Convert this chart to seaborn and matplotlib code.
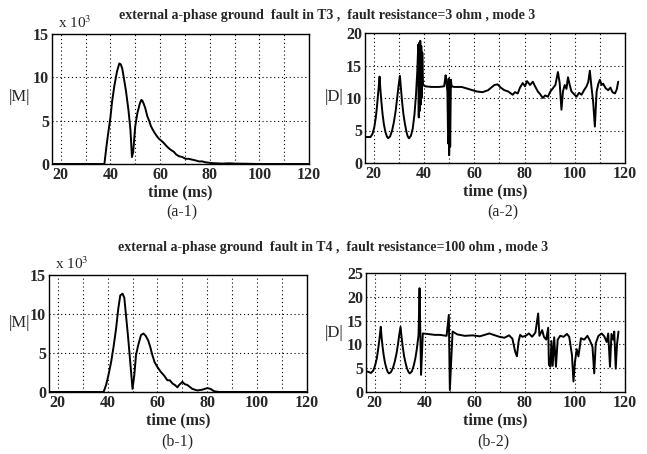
"""
Fault detection plots: |M| and |D| versus time for two external faults
"""

import matplotlib
matplotlib.use("Agg")
import matplotlib.pyplot as plt
import seaborn as sns
from matplotlib.ticker import MultipleLocator, FuncFormatter

# (a-1) |M| in units of 10^3, fault in T3
a1_time = [16.5, 37.6, 38.5, 39.3, 40.0, 40.7, 41.6, 42.7, 43.6, 44.2, 44.8, 45.4,
           46.3, 47.3, 48.1, 48.7, 49.2, 50.0, 50.9, 51.9, 52.5, 52.9, 53.5, 54.0,
           54.9, 55.6, 56.3, 57.0, 57.6, 58.5, 59.6, 60.5, 61.6, 62.5, 63.6, 64.5,
           65.6, 66.5, 67.6, 69.0, 70.3, 71.5, 73.0, 74.5, 75.6, 77.0, 78.3, 81.0,
           85.0, 88.0, 90.0, 95.0, 100.0, 120.0]
a1_mag = [0, 0, 2.2, 3.9, 5.3, 7.2, 9.0, 10.7, 11.6, 11.5, 11.0, 10.0,
          8.4, 6.2, 3.9, 0.8, 1.4, 4.3, 5.9, 7.0, 7.4, 7.3, 6.9, 6.5,
          5.5, 5.0, 4.4, 4.0, 3.7, 3.3, 2.9, 2.7, 2.4, 2.1, 1.8, 1.6,
          1.4, 1.1, 0.9, 0.8, 0.6, 0.6, 0.5, 0.4, 0.3, 0.3, 0.2, 0.1,
          0.05, 0.08, 0.05, 0.03, 0.0, 0.0]

# (a-2) |D|, fault in T3
a2_time = [16.7, 18.7, 19.5, 20.2, 20.8, 21.3, 21.8, 22.3, 22.6, 23.0, 23.5, 24.0,
           24.6, 25.2, 25.7, 26.5, 27.3, 28.0, 28.7, 29.3, 29.9, 30.4, 30.8, 31.3,
           31.8, 32.4, 33.0, 33.5, 34.0, 34.8, 35.5, 36.2, 36.8, 37.3, 37.7, 37.9,
           38.1, 38.3, 38.5, 38.7, 38.9, 39.1, 39.3, 39.6, 40.5, 43.0, 46.0, 48.0,
           48.6, 48.9, 49.3, 49.6, 49.8, 50.0, 50.2, 50.4, 50.7, 51.0, 52.0, 55.0,
           59.3, 61.0, 63.3, 65.5, 68.0, 69.3, 70.5, 72.0, 73.5, 75.3, 76.2, 77.3,
           78.2, 79.3, 80.2, 81.0, 82.2, 83.3, 84.2, 85.3, 86.2, 87.3, 88.2, 89.3,
           90.3, 91.3, 92.3, 93.3, 94.0, 94.7, 95.3, 96.0, 96.7, 97.3, 98.0, 98.7,
           99.7, 100.7, 101.7, 102.7, 103.7, 104.7, 105.4, 106.0, 106.7, 107.3, 108.0, 108.7,
           109.4, 110.0, 110.7, 111.3, 112.3, 113.3, 114.2, 115.0, 116.0, 116.7, 117.3]
a2_dist = [4.0, 4.0, 4.5, 5.5, 7.0, 8.8, 11.0, 13.3, 11.5, 9.5, 7.5, 6.0,
           4.8, 4.1, 3.8, 4.1, 5.0, 6.3, 8.0, 10.0, 12.0, 13.4, 11.5, 9.3,
           7.5, 6.0, 4.8, 4.1, 3.8, 4.2, 5.3, 7.5, 10.5, 14.0, 18.2, 7.0,
           18.5, 8.0, 18.8, 9.0, 18.0, 10.0, 17.0, 12.0, 11.8, 11.7, 11.7, 11.8,
           13.5, 12.5, 11.0, 3.0, 13.0, 1.2, 12.0, 2.5, 12.8, 11.8, 11.7, 11.7,
           11.2, 11.0, 10.9, 11.2, 12.0, 12.1, 11.6, 11.2, 11.0, 10.5, 10.9, 10.7,
           11.6, 12.3, 11.8, 12.6, 12.0, 12.5, 11.8, 11.0, 10.6, 10.0, 10.4, 10.2,
           11.0, 11.5, 12.0, 14.0, 12.3, 8.2, 11.0, 12.0, 11.4, 13.2, 12.0, 11.0,
           10.6, 10.2, 10.8, 10.5, 11.2, 11.8, 12.5, 14.2, 11.5, 9.5, 5.6, 11.0,
           12.2, 12.8, 12.0, 12.2, 11.5, 11.2, 11.6, 10.9, 10.7, 11.3, 12.5]

# (b-1) |M| in units of 10^3, fault in T4
b1_time = [16.5, 38.4, 39.4, 40.3, 41.4, 42.4, 43.4, 44.3, 45.1, 46.0, 46.7, 47.4,
           48.3, 49.1, 50.0, 50.7, 51.4, 52.2, 53.4, 54.4, 55.3, 56.3, 57.1, 58.0,
           58.9, 60.0, 61.3, 62.7, 64.0, 65.0, 66.0, 67.0, 68.0, 68.7, 70.0, 71.0,
           72.0, 74.0, 76.0, 78.0, 80.0, 81.3, 82.7, 84.7, 100.0, 119.7]
b1_mag = [0, 0, 0.9, 2.1, 3.8, 5.8, 8.1, 10.7, 12.4, 12.6, 12.1, 9.8,
          6.8, 3.8, 0.4, 2.1, 4.7, 5.9, 7.3, 7.5, 7.2, 6.6, 5.8, 4.7,
          3.8, 3.2, 2.6, 2.1, 1.5, 1.5, 1.1, 0.9, 0.6, 0.9, 1.3, 1.0,
          0.9, 0.4, 0.2, 0.3, 0.5, 0.4, 0.1, 0.0, 0.0, 0.0]

# (b-2) |D|, fault in T4
b2_time = [17.1, 18.5, 19.4, 20.1, 20.8, 21.3, 21.9, 22.4, 22.7, 23.1, 23.6, 24.1,
           24.7, 25.2, 25.7, 26.5, 27.3, 28.0, 28.7, 29.3, 29.8, 30.3, 30.7, 31.2,
           31.7, 32.3, 32.9, 33.5, 34.0, 34.8, 35.5, 36.2, 36.8, 37.5, 37.9, 38.5,
           39.2, 41.0, 44.0, 46.0, 48.7, 49.6, 50.0, 51.1, 53.0, 56.0, 59.0, 62.0,
           65.8, 67.5, 69.8, 71.8, 73.7, 75.0, 76.1, 76.8, 77.5, 78.1, 79.0, 80.3,
           81.6, 82.9, 84.2, 85.3, 85.8, 86.9, 87.6, 88.5, 89.3, 89.6, 90.2, 90.6,
           91.1, 91.7, 92.4, 93.1, 94.1, 95.5, 96.8, 97.7, 98.8, 99.4, 100.0, 100.7,
           101.4, 102.4, 103.7, 105.0, 106.0, 107.0, 107.7, 108.3, 109.4, 110.7, 111.7, 112.7,
           113.3, 114.0, 114.6, 115.3, 115.7, 116.3, 116.8, 117.4]
b2_dist = [4.3, 4.0, 4.5, 5.5, 7.0, 8.8, 11.2, 13.7, 11.7, 9.6, 7.6, 6.1,
           4.9, 4.2, 3.9, 4.2, 5.1, 6.4, 8.1, 10.1, 12.1, 13.7, 11.6, 9.4,
           7.6, 6.1, 4.9, 4.2, 3.9, 4.3, 5.4, 7.0, 9.0, 12.0, 21.8, 3.6,
           12.3, 12.2, 12.0, 12.0, 11.8, 16.2, 0.4, 12.7, 12.1, 11.8, 11.9, 11.7,
           12.3, 12.0, 11.6, 11.4, 11.9, 11.2, 8.5, 7.5, 10.7, 12.0, 11.6, 11.8,
           12.3, 11.6, 12.5, 16.5, 11.8, 13.0, 11.6, 11.0, 13.5, 5.7, 5.3, 10.7,
           5.5, 11.5, 5.3, 11.0, 11.8, 11.6, 12.2, 11.6, 7.8, 2.2, 6.3, 9.0,
           7.5, 11.3, 11.0, 11.8, 10.8, 9.5, 3.9, 10.2, 11.8, 12.3, 11.7, 10.5,
           12.3, 5.3, 12.2, 11.0, 12.7, 4.9, 10.0, 12.7]

panels = [
    ("(a-1)", a1_time, a1_mag, "|M|", 15, True),
    ("(a-2)", a2_time, a2_dist, "|D|", 20, False),
    ("(b-1)", b1_time, b1_mag, "|M|", 15, True),
    ("(b-2)", b2_time, b2_dist, "|D|", 25, False),
]
# axes boxes in pixels: left, right, top, bottom
boxes = [(52, 309, 34, 164), (365, 625, 33, 163), (49, 307, 275, 392), (366, 625, 273, 392)]
ylabel_pos = [(20, 97), (334, 97), (19, 323), (334, 333)]
tag_pos = [(182, 212), (503, 212), (177, 441), (493, 441)]

W, H = 647, 454

sns.set_theme(style="white")
plt.rcParams["font.family"] = ["Liberation Serif", "DejaVu Serif"]
plt.rcParams["mathtext.fontset"] = "stix"

fig = plt.figure(figsize=(W / 100, H / 100), dpi=100)

for (tag, t, v, ylab, ytop, scaled), (l, r, top, b), yp, tp in zip(
    panels, boxes, ylabel_pos, tag_pos
):
    ax = fig.add_axes([l / W, 1 - b / H, (r - l) / W, (b - top) / H])
    sns.lineplot(x=t, y=v, ax=ax, color="black", linewidth=1.4,
                 estimator=None, sort=False)
    ax.set_xlim(16.5, 120)
    ax.set_ylim(0, ytop)
    ax.xaxis.set_major_locator(MultipleLocator(10))
    ax.xaxis.set_major_formatter(
        FuncFormatter(lambda x, p: "%d" % x if round(x) % 20 == 0 else "")
    )
    ax.yaxis.set_major_locator(MultipleLocator(5))
    ax.grid(True, color="black", linestyle=(0, (1, 2.5)), linewidth=0.8)
    ax.tick_params(labelsize=11.5, length=0, pad=2)
    for lbl in ax.get_xticklabels() + ax.get_yticklabels():
        lbl.set_fontweight("bold")
    for s in ax.spines.values():
        s.set_color("black")
        s.set_linewidth(1.0)
    ax.set_xlabel("time (ms)", fontsize=11.5, fontweight="bold", labelpad=1)
    ax.set_ylabel("")
    fig.text(yp[0] / W, 1 - yp[1] / H, ylab, fontsize=12, ha="center", va="center")
    fig.text(tp[0] / W, 1 - tp[1] / H, tag, fontsize=11.5, ha="center", va="center")
    if scaled:
        fig.text((l + 6) / W, 1 - (top - 11) / H, r"x 10$^{3}$", fontsize=11,
                 ha="left", va="center")

fig.text(327 / W, 1 - 15 / H,
         "external a-phase ground  fault in T3 ,  fault resistance=3 ohm , mode 3",
         fontsize=10, fontweight="bold", ha="center", va="center")
fig.text(333 / W, 1 - 248 / H,
         "external a-phase ground  fault in T4 ,  fault resistance=100 ohm , mode 3",
         fontsize=10, fontweight="bold", ha="center", va="center")

fig.savefig("out.png", dpi=100)
